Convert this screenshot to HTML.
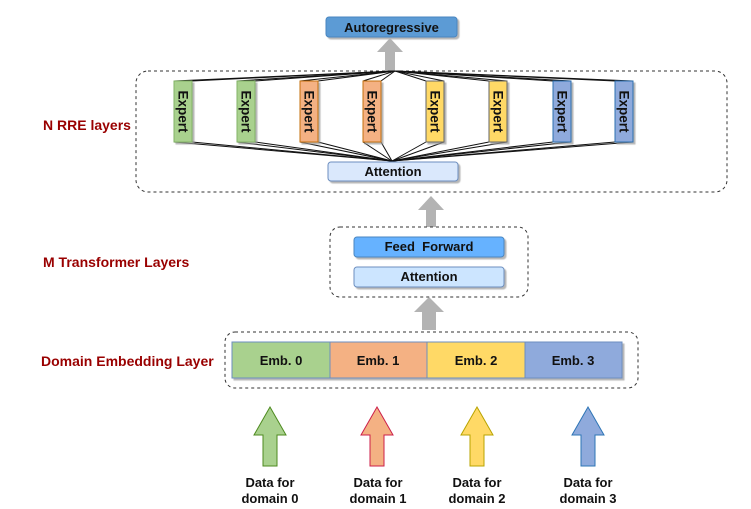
<!DOCTYPE html>
<html><head><meta charset="utf-8"><style>
html,body{margin:0;padding:0;background:#fff;width:751px;height:509px;overflow:hidden}
svg text{font-family:"Liberation Sans",Arial,sans-serif;font-weight:bold}
</style></head><body>
<svg width="751" height="509" viewBox="0 0 751 509" xmlns="http://www.w3.org/2000/svg">
<defs>
<filter id="sh" x="-20%" y="-20%" width="140%" height="160%"><feDropShadow dx="2" dy="2" stdDeviation="0.6" flood-color="#999" flood-opacity="0.7"/></filter>
</defs>
<g fill="#990000" font-size="14">
<text x="43" y="130">N RRE layers</text>
<text x="43" y="267">M Transformer Layers</text>
<text x="41" y="366">Domain Embedding Layer</text>
</g>
<rect x="326" y="17" width="131" height="20" rx="3" fill="#5b9bd5" stroke="#4a86c0" filter="url(#sh)"/>
<text x="391.5" y="32" font-size="13" text-anchor="middle" fill="#111">Autoregressive</text>
<polygon points="377,52 390,38 403,52 395,52 395,71 385,71 385,52" fill="#b3b3b3"/>
<rect x="136" y="71" width="591" height="121" rx="12" fill="none" stroke="#333" stroke-dasharray="3,3"/>
<g stroke="#111" stroke-width="1">
<line x1="174" y1="81" x2="395" y2="71"/><line x1="192" y1="81" x2="395" y2="71"/>
<line x1="237" y1="81" x2="395" y2="71"/><line x1="255" y1="81" x2="395" y2="71"/>
<line x1="300" y1="81" x2="395" y2="71"/><line x1="318" y1="81" x2="395" y2="71"/>
<line x1="363" y1="81" x2="395" y2="71"/><line x1="381" y1="81" x2="395" y2="71"/>
<line x1="426" y1="81" x2="395" y2="71"/><line x1="444" y1="81" x2="395" y2="71"/>
<line x1="489" y1="81" x2="395" y2="71"/><line x1="507" y1="81" x2="395" y2="71"/>
<line x1="553" y1="81" x2="395" y2="71"/><line x1="571" y1="81" x2="395" y2="71"/>
<line x1="615" y1="81" x2="395" y2="71"/><line x1="633" y1="81" x2="395" y2="71"/>
<line x1="174" y1="142" x2="392" y2="161"/><line x1="192" y1="142" x2="392" y2="161"/>
<line x1="237" y1="142" x2="392" y2="161"/><line x1="255" y1="142" x2="392" y2="161"/>
<line x1="300" y1="142" x2="392" y2="161"/><line x1="318" y1="142" x2="392" y2="161"/>
<line x1="363" y1="142" x2="392" y2="161"/><line x1="381" y1="142" x2="392" y2="161"/>
<line x1="426" y1="142" x2="392" y2="161"/><line x1="444" y1="142" x2="392" y2="161"/>
<line x1="489" y1="142" x2="392" y2="161"/><line x1="507" y1="142" x2="392" y2="161"/>
<line x1="553" y1="142" x2="392" y2="161"/><line x1="571" y1="142" x2="392" y2="161"/>
<line x1="615" y1="142" x2="392" y2="161"/><line x1="633" y1="142" x2="392" y2="161"/>
</g>
<g filter="url(#sh)">
<rect x="174" y="81" width="18" height="61" fill="#a9d18e" stroke="#82b366"/>
<rect x="237" y="81" width="18" height="61" fill="#a9d18e" stroke="#82b366"/>
<rect x="300" y="81" width="18" height="61" fill="#f4b183" stroke="#c5700f"/>
<rect x="363" y="81" width="18" height="61" fill="#f4b183" stroke="#c5700f"/>
<rect x="426" y="81" width="18" height="61" fill="#ffd966" stroke="#666"/>
<rect x="489" y="81" width="18" height="61" fill="#ffd966" stroke="#666"/>
<rect x="553" y="81" width="18" height="61" fill="#8faadc" stroke="#2e6fb0"/>
<rect x="615" y="81" width="18" height="61" fill="#8faadc" stroke="#2e6fb0"/>
</g>
<g font-size="13.5" fill="#111" text-anchor="middle">
<text transform="translate(178.5,111.5) rotate(90)">Expert</text>
<text transform="translate(241.5,111.5) rotate(90)">Expert</text>
<text transform="translate(304.5,111.5) rotate(90)">Expert</text>
<text transform="translate(367.5,111.5) rotate(90)">Expert</text>
<text transform="translate(430.5,111.5) rotate(90)">Expert</text>
<text transform="translate(493.5,111.5) rotate(90)">Expert</text>
<text transform="translate(557.5,111.5) rotate(90)">Expert</text>
<text transform="translate(619.5,111.5) rotate(90)">Expert</text>
</g>
<rect x="328" y="162" width="130" height="19" rx="3" fill="#dae8fc" stroke="#6c8ebf" filter="url(#sh)"/>
<text x="393" y="176" font-size="13" text-anchor="middle" fill="#111">Attention</text>
<polygon points="418,210 431,196 444,210 436,210 436,227 426,227 426,210" fill="#b3b3b3"/>
<rect x="330" y="227" width="198" height="70" rx="10" fill="none" stroke="#333" stroke-dasharray="3,3"/>
<rect x="354" y="237" width="150" height="20" rx="3" fill="#66b2ff" stroke="#4a86c0" filter="url(#sh)"/>
<text x="429" y="251" font-size="13" text-anchor="middle" fill="#111">Feed &#160;Forward</text>
<rect x="354" y="267" width="150" height="20" rx="3" fill="#cce5ff" stroke="#6c8ebf" filter="url(#sh)"/>
<text x="429" y="281" font-size="13" text-anchor="middle" fill="#111">Attention</text>
<polygon points="414,312 429,297 444,312 436,312 436,330 422,330 422,312" fill="#b3b3b3"/>
<rect x="225" y="332" width="413" height="56" rx="10" fill="none" stroke="#333" stroke-dasharray="3,3"/>
<g filter="url(#sh)">
<rect x="232" y="342" width="98" height="36" fill="#a9d18e" stroke="#6c8ebf"/>
<rect x="330" y="342" width="97" height="36" fill="#f4b183" stroke="#6c8ebf"/>
<rect x="427" y="342" width="98" height="36" fill="#ffd966" stroke="#6c8ebf"/>
<rect x="525" y="342" width="97" height="36" fill="#8faadc" stroke="#6c8ebf"/>
</g>
<g font-size="13" fill="#111" text-anchor="middle">
<text x="281" y="365">Emb. 0</text>
<text x="378" y="365">Emb. 1</text>
<text x="476" y="365">Emb. 2</text>
<text x="573" y="365">Emb. 3</text>
</g>
<polygon points="254,435 270,407 286,435 277,435 277,466 263,466 263,435" fill="#a9d18e" stroke="#4d8a1f"/>
<polygon points="361,435 377,407 393,435 384,435 384,466 370,466 370,435" fill="#f4b183" stroke="#cc1f4a"/>
<polygon points="461,435 477,407 493,435 484,435 484,466 470,466 470,435" fill="#ffd966" stroke="#b8a400"/>
<polygon points="572,435 588,407 604,435 595,435 595,466 581,466 581,435" fill="#8faadc" stroke="#2e75b6"/>
<g font-size="13" fill="#111" text-anchor="middle">
<text x="270" y="487">Data for</text><text x="270" y="503">domain 0</text>
<text x="378" y="487">Data for</text><text x="378" y="503">domain 1</text>
<text x="477" y="487">Data for</text><text x="477" y="503">domain 2</text>
<text x="588" y="487">Data for</text><text x="588" y="503">domain 3</text>
</g>
</svg>
</body></html>
